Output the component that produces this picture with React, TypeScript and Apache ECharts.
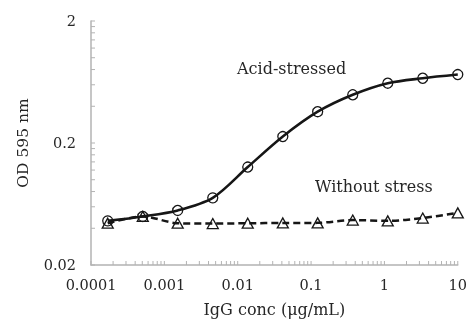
import React, { useEffect, useRef } from 'react';
import * as echarts from 'echarts';

// IgG concentration (µg/mL), 3-fold dilutions
const xValues = [0.000169, 0.000508, 0.00152, 0.00457, 0.0137, 0.0412, 0.123, 0.37, 1.11, 3.33, 10];
// OD 595 nm
const acidStressed = [0.046, 0.05, 0.056, 0.071, 0.127, 0.226, 0.361, 0.497, 0.618, 0.679, 0.728];
const withoutStress = [0.044, 0.05, 0.044, 0.0437, 0.044, 0.0442, 0.0443, 0.0467, 0.046, 0.0485, 0.0535];

const xRange = [0.0001, 10];
const yRange = [0.02, 2];
const yTickLabels = [0.02, 0.2, 2];
const xDecades = [0.0001, 0.001, 0.01, 0.1, 1];
const yDecades = [0.02, 0.2];
const tickFactors = [1, 2, 3, 4, 5, 6, 7, 8, 9];

const seriesNames = ['Acid-stressed', 'Without stress'];
const xTitle = 'IgG conc (μg/mL)';
const yTitle = 'OD 595 nm';

export default function App() {
  const ref = useRef<HTMLDivElement>(null);
  useEffect(() => {
    const chart = echarts.init(ref.current!, null, { renderer: 'svg' });
    const font = '"DejaVu Serif", serif';
    const axisColor = '#b3b3b3';
    const textColor = '#262626';
    const lineColor = '#161616';

    const xTicks = [...xDecades.flatMap((d) => tickFactors.map((f) => [d * f, yRange[0]])), [xRange[1], yRange[0]]];
    const yTicks = [...yDecades.flatMap((d) => tickFactors.map((f) => [xRange[0], d * f])), [xRange[0], yRange[1]]];
    const yLabels = yTickLabels.map((v) => [xRange[0], v]);

    chart.setOption({
      animation: false,
      grid: { left: 91, right: 11, top: 21, bottom: 55, containLabel: false },
      xAxis: {
        type: 'log',
        logBase: 10,
        min: xRange[0],
        max: xRange[1],
        name: xTitle,
        nameLocation: 'middle',
        nameGap: 36,
        nameTextStyle: { fontFamily: font, fontSize: 16, color: textColor },
        axisLine: { show: true, lineStyle: { color: axisColor, width: 1.5 } },
        axisTick: { show: false },
        minorTick: { show: false },
        splitLine: { show: false },
        axisLabel: {
          fontFamily: font,
          fontSize: 14.5,
          color: textColor,
          margin: 12,
          formatter: (v: number) => String(parseFloat(v.toPrecision(6))),
        },
      },
      yAxis: {
        type: 'log',
        logBase: 10,
        min: yRange[0],
        max: yRange[1],
        name: yTitle,
        nameLocation: 'middle',
        nameGap: 60,
        nameTextStyle: { fontFamily: font, fontSize: 15.5, color: textColor },
        axisLine: { show: true, lineStyle: { color: axisColor, width: 1.5 } },
        axisTick: { show: false },
        minorTick: { show: false },
        splitLine: { show: false },
        axisLabel: { show: false },
      },
      graphic: [
        {
          type: 'text',
          x: 237,
          y: 68,
          style: { text: seriesNames[0], font: `16px ${font}`, fill: textColor, verticalAlign: 'middle' },
        },
        {
          type: 'text',
          x: 315,
          y: 186,
          style: { text: seriesNames[1], font: `16px ${font}`, fill: textColor, verticalAlign: 'middle' },
        },
      ],
      series: [
        {
          type: 'custom',
          silent: true,
          clip: false,
          encode: { x: 0, y: 1 },
          data: xTicks,
          renderItem: (params: any, api: any) => {
            const p = api.coord([api.value(0), api.value(1)]);
            return {
              type: 'line',
              shape: { x1: p[0], y1: p[1], x2: p[0], y2: p[1] - 4 },
              style: { stroke: axisColor, lineWidth: 1 },
            };
          },
        },
        {
          type: 'custom',
          silent: true,
          clip: false,
          encode: { x: 0, y: 1 },
          data: yTicks,
          renderItem: (params: any, api: any) => {
            const p = api.coord([api.value(0), api.value(1)]);
            return {
              type: 'line',
              shape: { x1: p[0], y1: p[1], x2: p[0] + 4, y2: p[1] },
              style: { stroke: axisColor, lineWidth: 1 },
            };
          },
        },
        {
          type: 'custom',
          silent: true,
          clip: false,
          encode: { x: 0, y: 1 },
          data: yLabels,
          renderItem: (params: any, api: any) => {
            const p = api.coord([api.value(0), api.value(1)]);
            return {
              type: 'text',
              x: p[0] - 15,
              y: p[1],
              style: {
                text: String(api.value(1)),
                align: 'right',
                verticalAlign: 'middle',
                font: `14.5px ${font}`,
                fill: textColor,
              },
            };
          },
        },
        {
          type: 'line',
          name: seriesNames[1],
          data: xValues.map((x, i) => [x, withoutStress[i]]),
          smooth: 0.3,
          symbol: 'triangle',
          symbolSize: [11, 10],
          showAllSymbol: true,
          lineStyle: { color: lineColor, width: 2.5, type: [7, 4] },
          itemStyle: { color: 'transparent', borderColor: lineColor, borderWidth: 1.3 },
          z: 3,
        },
        {
          type: 'line',
          name: seriesNames[0],
          data: xValues.map((x, i) => [x, acidStressed[i]]),
          smooth: 0.3,
          symbol: 'circle',
          symbolSize: 10,
          showAllSymbol: true,
          lineStyle: { color: lineColor, width: 2.6 },
          itemStyle: { color: 'transparent', borderColor: lineColor, borderWidth: 1.3 },
          z: 4,
        },
      ],
    });
    return () => chart.dispose();
  }, []);
  return <div ref={ref} style={{ position: 'fixed', left: 0, top: 0, width: 470, height: 322 }} />;
}
